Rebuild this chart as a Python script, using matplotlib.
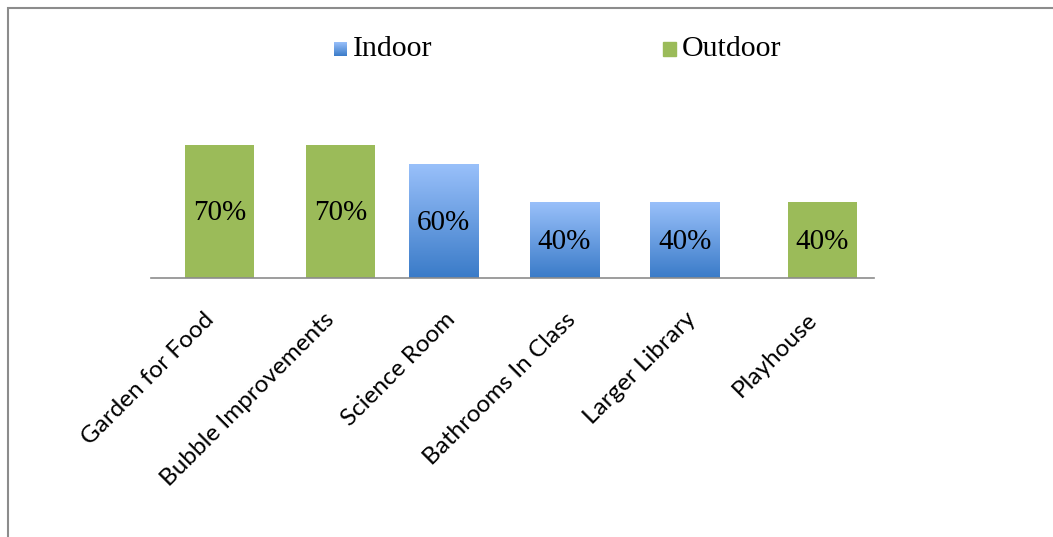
import numpy as np
import matplotlib.pyplot as plt
import matplotlib.transforms as mtransforms
from matplotlib.patches import Rectangle

# Datos
categorias = ["Garden for Food", "Bubble Improvements", "Science Room",
              "Bathrooms In Class", "Larger Library", "Playhouse"]
indoor = [0, 0, 0.60, 0.40, 0.40, 0]
outdoor = [0.70, 0.70, 0, 0, 0, 0.40]
series = ["Indoor", "Outdoor"]

verde = "#9BBB59"
azul_claro = np.array([0x99, 0xC0, 0xFA]) / 255
azul_oscuro = np.array([0x3A, 0x7B, 0xC8]) / 255

fig = plt.figure(figsize=(10.53, 5.37), dpi=100)
ax = fig.add_axes([151 / 1053, 1 - 278 / 537, 723 / 1053, 152 / 537])

x = np.arange(len(categorias))
ancho = 0.573
desp = 0.072

# degradado vertical para las barras azules
grad = np.linspace(0, 1, 256).reshape(-1, 1, 1)
grad_img = azul_oscuro * (1 - grad) + azul_claro * grad

for xi, v in zip(x, indoor):
    if v > 0:
        x0 = xi - desp - ancho / 2
        ax.imshow(grad_img, extent=(x0, x0 + ancho, 0, v), origin="lower",
                  aspect="auto", zorder=2)
        ax.text(xi - desp, v / 2 - 0.01, f"{v:.0%}", ha="center", va="center",
                fontsize=21, family="Liberation Serif", zorder=3)

ax.bar(x + desp, outdoor, width=ancho, color=verde, zorder=2)
for xi, v in zip(x, outdoor):
    if v > 0:
        ax.text(xi + desp, v / 2 - 0.01, f"{v:.0%}", ha="center", va="center",
                fontsize=21, family="Liberation Serif", zorder=3)

ax.set_xlim(-0.5, len(categorias) - 0.5)
ax.set_ylim(0, 0.8)
ax.set_xticks(x)
ax.set_xticklabels(categorias, rotation=45, ha="right", rotation_mode="anchor",
                   fontsize=17.5, family="Lato")
ax.tick_params(axis="x", length=0, pad=22)
desplaza = mtransforms.ScaledTranslation(-8 / 100, 0, fig.dpi_scale_trans)
for lbl in ax.get_xticklabels():
    lbl.set_transform(lbl.get_transform() + desplaza)
ax.set_yticks([])
for s in ["top", "right", "left"]:
    ax.spines[s].set_visible(False)
ax.spines["bottom"].set_color("#8c8c8c")
ax.spines["bottom"].set_linewidth(1.2)

# leyenda manual en la parte superior
for etiqueta, xs, color in [("Indoor", 334, None), ("Outdoor", 663, verde)]:
    if color is None:
        cax = fig.add_axes([xs / 1053, 1 - 56 / 537, 13 / 1053, 14 / 537])
        cax.imshow(grad_img, origin="lower", aspect="auto")
        cax.axis("off")
    else:
        fig.patches.append(Rectangle((xs / 1053, 1 - 56 / 537), 13 / 1053, 14 / 537,
                                     transform=fig.transFigure, color=color))
    fig.text((xs + 19) / 1053, 1 - 49 / 537, etiqueta, ha="left", va="center",
             fontsize=21.5, family="Liberation Serif")

# marco del gráfico
fig.patches.append(Rectangle((8 / 1053, -0.1), 1.2, 1 - 8 / 537 + 0.1,
                             transform=fig.transFigure, fill=False,
                             edgecolor="#8c8c8c", linewidth=1.5))

fig.savefig("out.png", dpi=100)
